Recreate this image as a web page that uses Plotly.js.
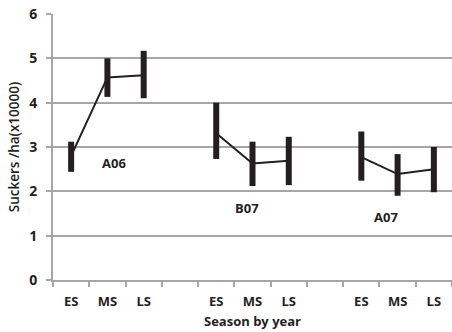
<!DOCTYPE html>
<html><head><meta charset="utf-8">
<script src="https://cdn.plot.ly/plotly-3.0.1.min.js"></script>
<style>html,body{margin:0;padding:0;background:#fff;}#c{width:452px;height:332px;}</style>
</head><body><div id="c"></div>
<script>
const categories = ['ES','MS','LS','','ES','MS','LS','','ES','MS','LS'];
const groups = ['A06','B07','A07'];
const groupStart = [0, 4, 8];
const meanA06 = [2.80, 4.57, 4.62];
const meanB07 = [3.31, 2.63, 2.69];
const meanA07 = [2.77, 2.39, 2.50];
const upperA06 = [3.12, 5.00, 5.17];
const upperB07 = [4.00, 3.12, 3.23];
const upperA07 = [3.35, 2.84, 3.00];
const lowerA06 = [2.44, 4.13, 4.10];
const lowerB07 = [2.73, 2.12, 2.14];
const lowerA07 = [2.24, 1.90, 1.98];

const means = [meanA06, meanB07, meanA07];
const uppers = [upperA06, upperB07, upperA07];
const lowers = [lowerA06, lowerB07, lowerA07];

const traces = groups.map((g, k) => {
  const x = means[k].map((_, i) => groupStart[k] + i);
  return {
    type: 'scatter', mode: 'lines', name: g,
    x: x, y: means[k],
    line: {color: '#231f20', width: 2},
    error_y: {
      type: 'data', symmetric: false,
      array: uppers[k].map((u, i) => u - means[k][i]),
      arrayminus: lowers[k].map((l, i) => means[k][i] - l),
      color: '#231f20', thickness: 6, width: 0
    },
    showlegend: false, hoverinfo: 'skip'
  };
});

const fnt = {family: 'Open Sans, sans-serif', size: 13, color: '#231f20', weight: 'bold'};
const labelPos = [[1.17, 2.64], [4.86, 1.62], [8.68, 1.41]];

const layout = {
  width: 452, height: 332,
  margin: {l: 53, r: 0, t: 14, b: 52},
  paper_bgcolor: '#fff', plot_bgcolor: '#fff',
  showlegend: false,
  xaxis: {
    range: [-0.5, 10.5], tickmode: 'array',
    tickvals: categories.map((_, i) => i), ticktext: categories,
    ticks: '', tickfont: fnt, ticklabelstandoff: 8, showgrid: false, zeroline: false,
    showline: true, linecolor: '#a6a6a6', linewidth: 2,
    minor: {tick0: -0.5, dtick: 1, ticks: 'outside', ticklen: 5, tickcolor: '#a6a6a6', tickwidth: 2, showgrid: false},
    title: {text: 'Season by year', font: fnt, standoff: 8}
  },
  yaxis: {
    range: [0, 6], dtick: 1, tick0: 0,
    ticks: 'outside', ticklen: 5, tickcolor: '#a6a6a6', tickwidth: 2,
    tickfont: {family: 'Open Sans, sans-serif', size: 14, color: '#231f20', weight: 'bold'},
    ticklabelstandoff: 6,
    showgrid: true, gridcolor: '#a6a6a6', gridwidth: 2, zeroline: false,
    showline: true, linecolor: '#a6a6a6', linewidth: 2,
    title: {text: 'Suckers /ha(x10000)', font: {family: 'Open Sans, sans-serif', size: 13.5, color: '#231f20', weight: 600}, standoff: 6}
  },
  annotations: groups.map((g, k) => ({
    x: labelPos[k][0], y: labelPos[k][1], text: g, showarrow: false,
    font: fnt, xref: 'x', yref: 'y'
  }))
};

Plotly.newPlot('c', traces, layout, {staticPlot: true, displayModeBar: false});
</script>
</body></html>
